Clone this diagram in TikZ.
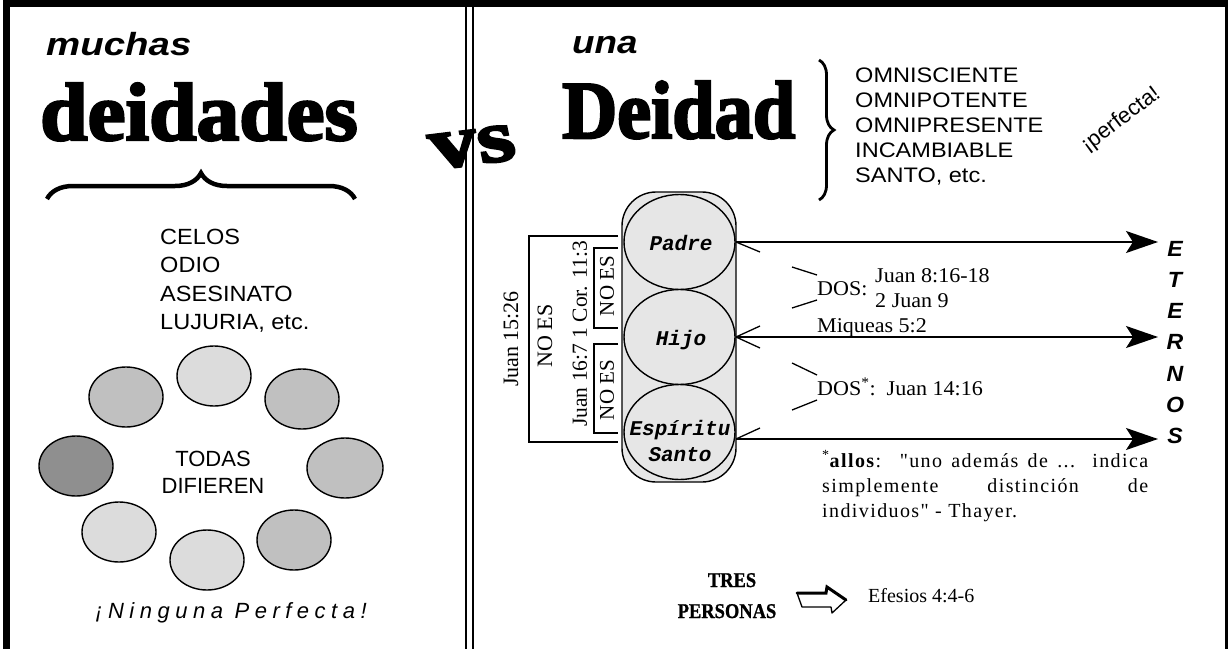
\documentclass[tikz,border=0pt]{standalone}
\usepackage{fontspec}
\setmainfont{Liberation Serif}
\newfontfamily\arial{Liberation Sans}
\newfontfamily\arialsp[LetterSpace=25]{Liberation Sans}
\newfontfamily\serifsp[LetterSpace=7]{Liberation Serif}
\newfontfamily\cour{Liberation Mono}
\newfontfamily\heavy[FakeBold=3]{Liberation Serif}
\newfontfamily\boldish[FakeBold=1]{Liberation Serif}
\usetikzlibrary{arrows.meta,decorations.pathreplacing,shapes.geometric}
\definecolor{lightg}{HTML}{DCDCDC}
\definecolor{midg}{HTML}{C0C0C0}
\definecolor{darkg}{HTML}{8F8F8F}
\definecolor{capg}{HTML}{E6E6E6}
\newcommand\fs[1]{\fontsize{#1}{#1}\selectfont}
\begin{document}
\begin{tikzpicture}[x=1pt,y=-1pt,
  god/.style={ellipse, draw, line width=1.4pt, minimum width=74pt, minimum height=60pt, inner sep=0pt},
  person/.style={ellipse, draw, line width=1.4pt, fill=capg, minimum width=111pt, minimum height=95pt, inner sep=0pt},
  pname/.style={anchor=base, inner sep=0pt, font=\cour\bfseries\itshape\fs{21}},
  txt/.style={anchor=base west, inner sep=0pt},
  ctxt/.style={anchor=base, inner sep=0pt},
  rtxt/.style={rotate=90, inner sep=0pt},
  ref/.style={txt, font=\fs{21}, xscale=1.05},
  bar/.style={line width=2pt},
  eternal/.style={line width=1.8pt, -{Stealth[length=32pt,width=22pt,inset=7pt]}},
  tick/.style={line width=1.3pt}
]
\useasboundingbox (0,0) rectangle (1228,648);
\fill[white] (0,0) rectangle (1228,648);
% frame
\draw[line width=6.7pt] (6.7,652) -- (6.7,3.5) -- (1228,3.5) -- (1228,652);
\draw[line width=2.2pt] (466,7) -- (466,652);
\draw[line width=2.2pt] (473,7) -- (473,652);

% ---------- left panel ----------
\node[txt, font=\arial\bfseries\itshape\fs{32}, xscale=1.2] (muchas) at (46,55) {muchas};
\node[txt, font=\heavy\bfseries\fs{82}, xscale=1.04] (deidades) at (40,140) {deidades};
\draw[line width=4.5pt, decorate, decoration={brace, amplitude=26pt}] (47,199) -- (355,199);
\foreach \t [count=\i] in {CELOS,ODIO,ASESINATO,{LUJURIA, etc.}}
  \node[txt, font=\arial\fs{22}, xscale=1.07] (vice\i) at ({160},{244+28.5*(\i-1)}) {\t};

\node[god, fill=lightg] (g1) at (214,376) {};
\node[god, fill=midg]   (g2) at (126,397) {};
\node[god, fill=midg]   (g3) at (302,399) {};
\node[god, fill=darkg]  (g4) at (76,466) {};
\node[god, fill=midg, minimum width=76pt]   (g5) at (345,468) {};
\node[god, fill=lightg] (g6) at (119,532) {};
\node[god, fill=lightg] (g7) at (207,560) {};
\node[god, fill=midg]   (g8) at (294,540) {};
\node[ctxt, font=\arial\fs{22}] (todas) at (213,466) {TODAS};
\node[ctxt, font=\arial\fs{22}] (dif) at (213,493) {DIFIEREN};
\node[ctxt, font=\arialsp\itshape\fs{22}] (ninguna) at (231,618) {¡Ninguna Perfecta!};

% ---------- vs ----------
\node[anchor=base, inner sep=0pt, font=\heavy\bfseries\fs{74}, xscale=1.3, rotate=9] (vs) at (476,164) {vs};

% ---------- right panel ----------
\node[txt, font=\arial\bfseries\itshape\fs{32}, xscale=1.15] (una) at (572,53) {una};
\node[txt, font=\heavy\bfseries\fs{82}, xscale=0.93] (Deidad) at (562,138) {Deidad};
\draw[line width=2.8pt, decorate, decoration={brace, amplitude=15pt}] (819,60) -- (819,200);
\foreach \t [count=\i] in {OMNISCIENTE,OMNIPOTENTE,OMNIPRESENTE,INCAMBIABLE,{SANTO, etc.}}
  \node[txt, font=\arial\fs{21}, xscale=1.12] (attr\i) at ({855},{82+25*(\i-1)}) {\t};
\node[font=\arial\fs{22}, rotate=37, inner sep=0pt] (perf) at (1121,120) {¡perfecta!};

% capsule and persons
\node[draw, line width=1.4pt, fill=capg, rounded corners=34pt, minimum width=114pt, minimum height=290pt, inner sep=0pt] (cap) at (679,337) {};
\node[person] (padre) at (679.5,242) {};
\node[person] (hijo) at (679.5,337) {};
\node[person] (esp) at (679.5,432) {};
\node[pname] (padreT) at (681,250) {Padre};
\node[pname] (hijoT) at (681,345) {Hijo};
\node[pname] (espT) at (680,435) {Espíritu};
\node[pname] (santoT) at (680,461) {Santo};

% arrows to ETERNOS
\coordinate (sP) at (736,242);
\coordinate (sH) at (736,337);
\coordinate (sE) at (736,439);
\coordinate (tP) at (1158,242);
\coordinate (tH) at (1158,337);
\coordinate (tE) at (1158,439);
\draw[eternal] (sP) -- (tP);
\draw[eternal] (sH) -- (tH);
\draw[eternal] (sE) -- (tE);
\draw[tick] (sP) -- ++(24,10);
\draw[tick] (sH) -- ++(24,-11);
\draw[tick] (sH) -- ++(24,11);
\draw[tick] (sE) -- ++(24,-11);
\draw[tick] (792,267) -- (817,275);
\draw[tick] (792,308) -- (817,300);
\draw[tick] (792,363) -- (817,375);
\draw[tick] (792,410) -- (817,400);

\node[ref] (dos1) at (817,295) {DOS:};
\node[ref] (j8) at (875,282) {Juan 8:16-18};
\node[ref] (j9) at (875,307) {2 Juan 9};
\node[ref] (miq) at (817,332) {Miqueas 5:2};
\node[ref] (dos2) at (817,395) {DOS\textsuperscript{*}:~~Juan 14:16};

\foreach \l [count=\i] in {E,T,E,R,N,O,S}
  \node[ctxt, font=\arial\bfseries\itshape\fs{22}, xscale=1.05] (et\i) at ({1175},{256+31.3*(\i-1)}) {\l};

% footnote
\node[txt, font=\serifsp\fs{20}] (fn1) at (822,467) {\makebox[326pt][s]{\textsuperscript{*}\textbf{allos}:~~"uno además de ... indica}};
\node[txt, font=\serifsp\fs{20}] (fn2) at (822,492) {\makebox[326pt][s]{simplemente distinción de}};
\node[txt, font=\serifsp\fs{20}] (fn3) at (822,517) {individuos" - Thayer.};

% brackets with NO ES
\draw[bar] (618,236) -- (529,236) -- (529,442) -- (618,442);
\draw[bar] (618,248) -- (594,248) -- (594,328) -- (618,328);
\draw[bar] (618,344) -- (594,344) -- (594,433) -- (618,433);
\node[rtxt, font=\fs{22}] (j15) at (511,339) {Juan 15:26};
\node[rtxt, font=\fs{22}] (noes1) at (545,336) {NO ES};
\node[rtxt, font=\fs{21.5}] (j16) at (580,334) {Juan 16:7 1 Cor. 11:3};
\node[rtxt, font=\fs{21}] (noes2) at (607,286) {NO ES};
\node[rtxt, font=\fs{21}] (noes3) at (607,390) {NO ES};

% bottom
\node[ctxt, font=\boldish\bfseries\fs{21}, xscale=0.88] (tres) at (732,587) {TRES};
\node[ctxt, font=\boldish\bfseries\fs{21}, xscale=0.88] (pers) at (727,618) {PERSONAS};
\draw[line width=1.3pt, line join=round] (797,593) -- (826,593) -- (827,587) -- (846,600) -- (832,613) -- (831,607) -- (802,607) -- cycle;
\draw[line width=3pt, line cap=round] (797,593) -- (826,593) -- (827,587) -- (846,600);
\node[txt, font=\fs{20}] (efe) at (868,602) {Efesios 4:4-6};
\end{tikzpicture}
\end{document}
